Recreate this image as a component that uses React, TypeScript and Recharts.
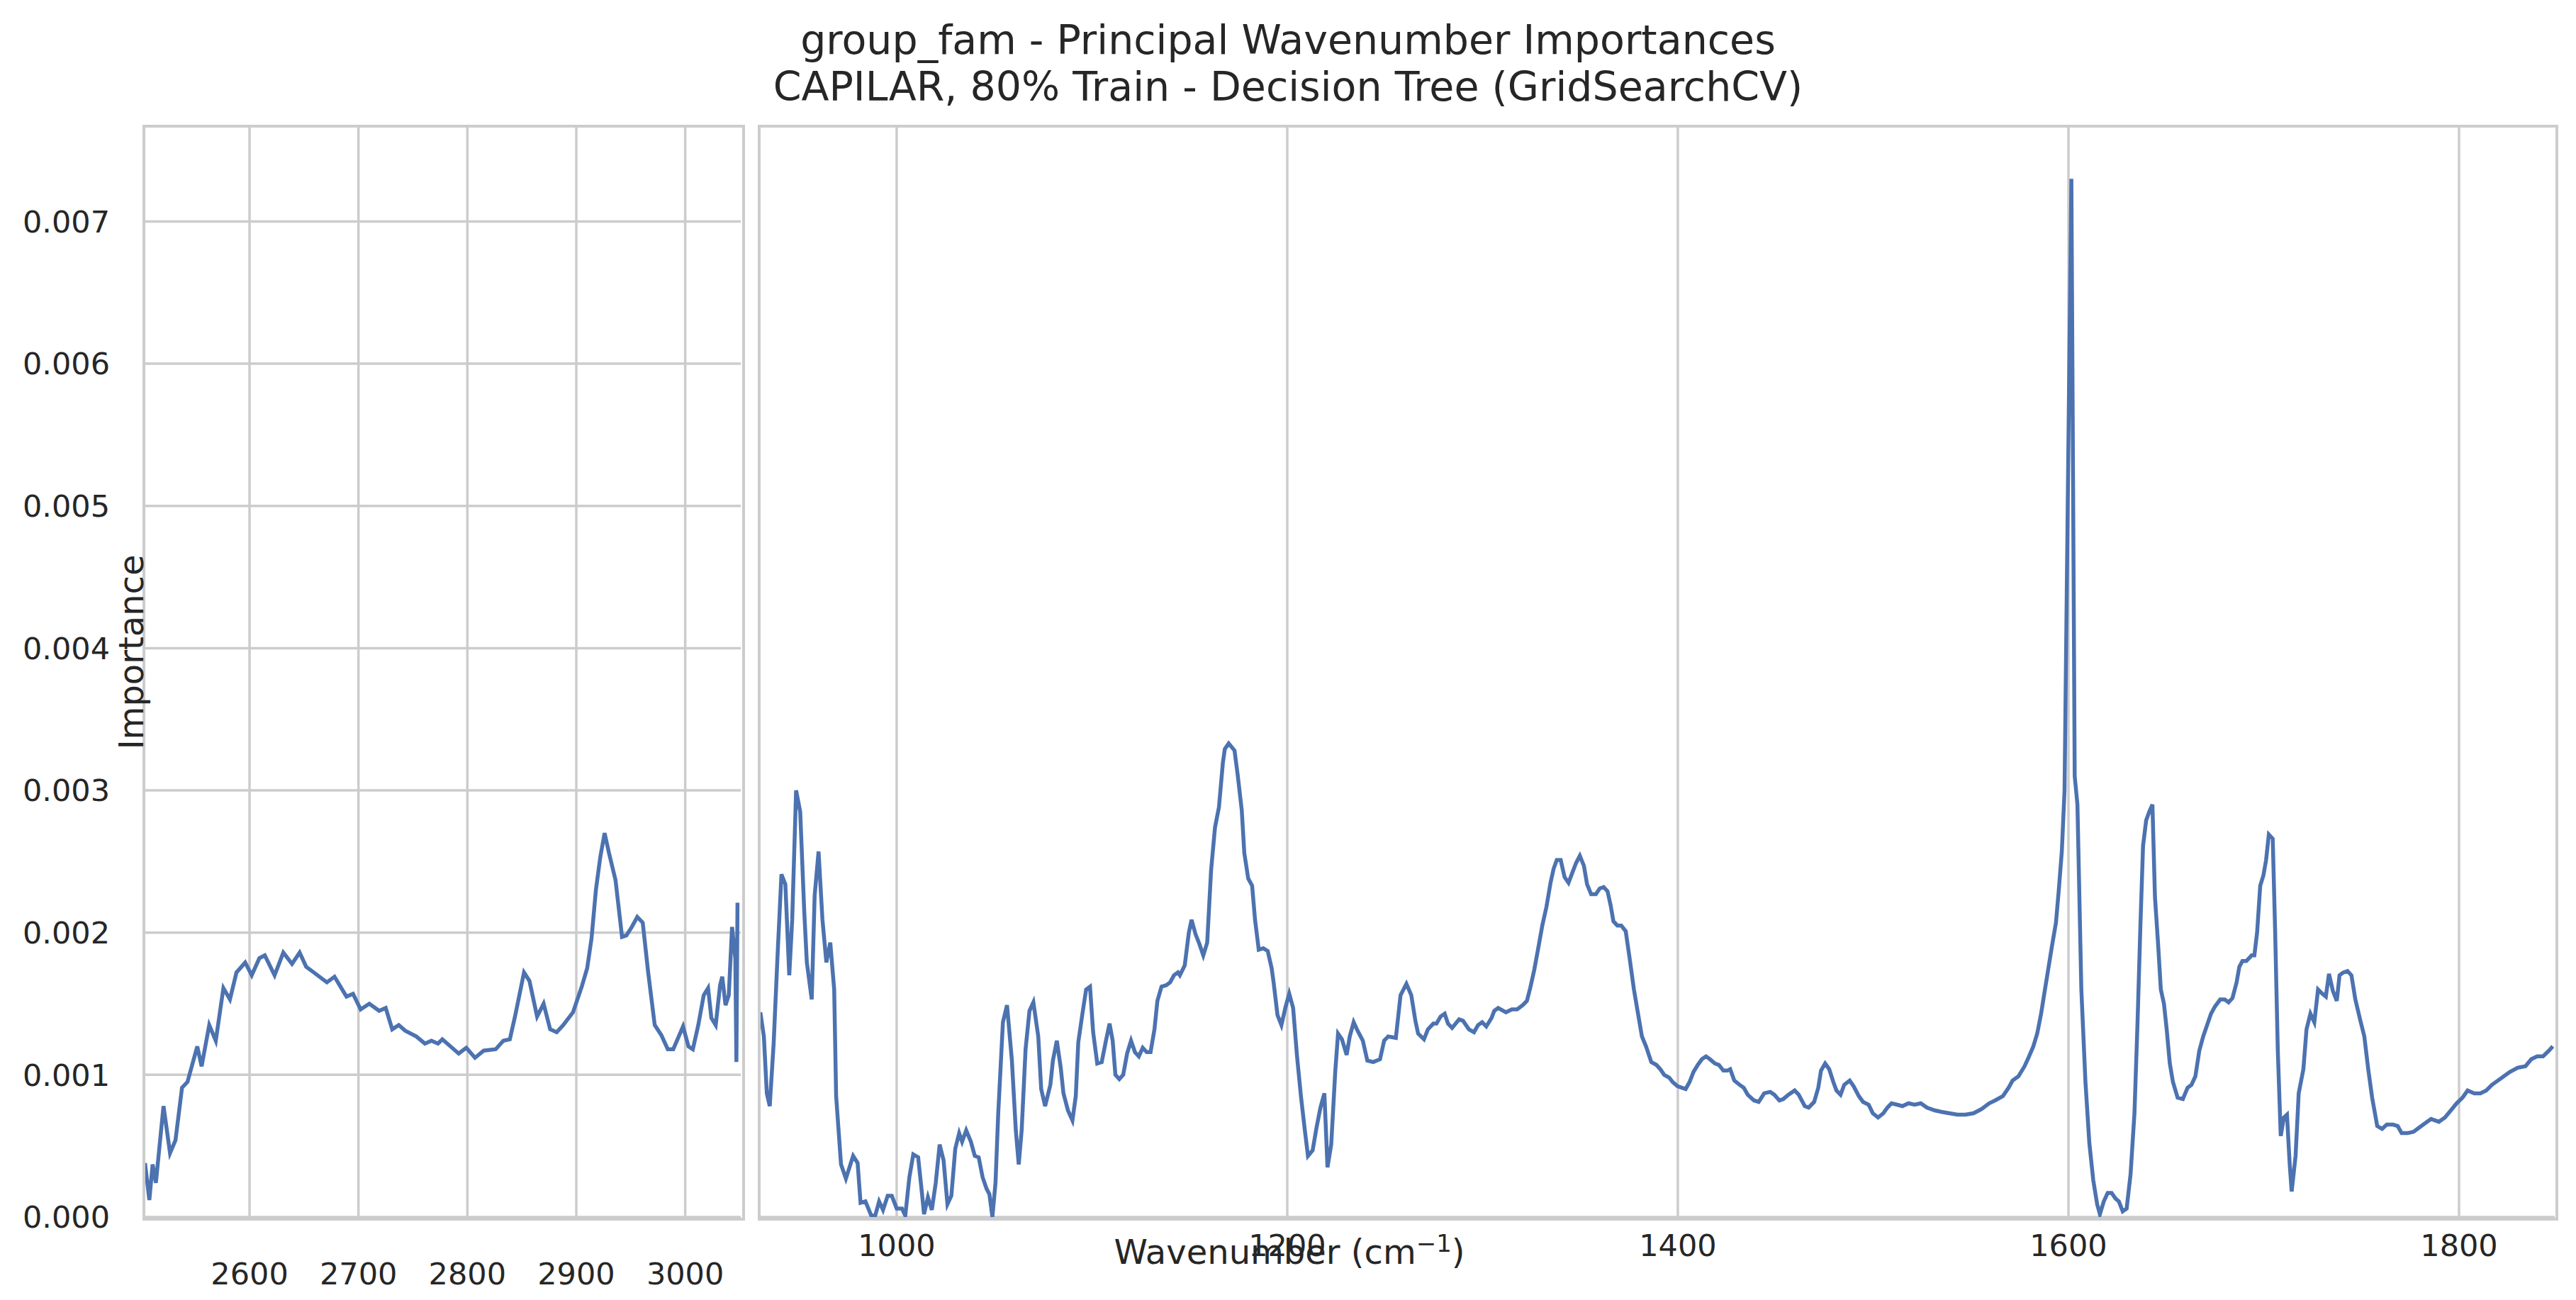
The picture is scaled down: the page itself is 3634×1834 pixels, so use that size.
import React from 'react'
import { LineChart, Line, XAxis, YAxis, CartesianGrid } from 'recharts'

const leftWn = [2504, 2508, 2511, 2514, 2521, 2527, 2532, 2538, 2543, 2552, 2556, 2563, 2569, 2576, 2582, 2588, 2596, 2602, 2609, 2614, 2623, 2631, 2639, 2646, 2652, 2659, 2671, 2678, 2689, 2695, 2702, 2710, 2719, 2725, 2731, 2737, 2743, 2753, 2761, 2767, 2773, 2777, 2789, 2792, 2799, 2807, 2815, 2826, 2833, 2839, 2844, 2852, 2857, 2864, 2870, 2876, 2882, 2888, 2897, 2905, 2910, 2914, 2918, 2922, 2926, 2930, 2936, 2942, 2946, 2951, 2956, 2961, 2966, 2972, 2978, 2984, 2989, 2998, 3003, 3007, 3012, 3017, 3021, 3024, 3028, 3032, 3034, 3037, 3040, 3043, 3046, 3047, 3048]
const leftImp = [0.00038, 0.00012, 0.00037, 0.00024, 0.00078, 0.00045, 0.00054, 0.00091, 0.00095, 0.0012, 0.00106, 0.00135, 0.00124, 0.00161, 0.00153, 0.00172, 0.00179, 0.0017, 0.00182, 0.00184, 0.0017, 0.00186, 0.00178, 0.00186, 0.00176, 0.00172, 0.00165, 0.00169, 0.00155, 0.00157, 0.00146, 0.0015, 0.00145, 0.00147, 0.00132, 0.00135, 0.00131, 0.00127, 0.00122, 0.00124, 0.00122, 0.00125, 0.00117, 0.00115, 0.00119, 0.00112, 0.00117, 0.00118, 0.00124, 0.00125, 0.00142, 0.00172, 0.00166, 0.00141, 0.0015, 0.00132, 0.0013, 0.00135, 0.00144, 0.00162, 0.00175, 0.00196, 0.0023, 0.00253, 0.0027, 0.00256, 0.00237, 0.00197, 0.00198, 0.00204, 0.00211, 0.00207, 0.00172, 0.00135, 0.00128, 0.00118, 0.00118, 0.00134, 0.0012, 0.00118, 0.00135, 0.00156, 0.00161, 0.0014, 0.00135, 0.00163, 0.00169, 0.00149, 0.00156, 0.00204, 0.00182, 0.00109, 0.00221]

const rightWn = [930.2, 932, 933.5, 935, 937, 939, 941, 943, 945, 946.5, 948.5, 950.6, 952.7, 954, 956.5, 958, 960, 962, 964, 966, 968, 969, 971.5, 974, 977.7, 980, 981.5, 984, 987, 989, 991, 993, 995.4, 997.5, 1000, 1002.7, 1004.4, 1006.5, 1008.5, 1011, 1013, 1014, 1016, 1018, 1020, 1022, 1024, 1026, 1028, 1030, 1032, 1033.5, 1035.6, 1038, 1040, 1042, 1044, 1046, 1047.5, 1049, 1050.6, 1052, 1054.4, 1056.5, 1059, 1061, 1062.5, 1064, 1066, 1068, 1070, 1072.5, 1074, 1076, 1078.7, 1080, 1082, 1084, 1085.4, 1087.7, 1090, 1091.7, 1093, 1095, 1097, 1099, 1100.6, 1102.7, 1105, 1107, 1109, 1110.6, 1112, 1114, 1116, 1118, 1120, 1122, 1124, 1126, 1128, 1130, 1132, 1133.5, 1135.6, 1138, 1140, 1142, 1144, 1145, 1147.5, 1149.6, 1151, 1153, 1155, 1157, 1159, 1161, 1163, 1165, 1167, 1168, 1170, 1173, 1174.6, 1176.7, 1178, 1180, 1182, 1183.5, 1185.4, 1187.7, 1190, 1192, 1193, 1195, 1197, 1199, 1201, 1203, 1205, 1207, 1209, 1210.6, 1213, 1215, 1217, 1219, 1220.6, 1222.5, 1224.6, 1226, 1228, 1230.4, 1232, 1234, 1236, 1238.7, 1241, 1244, 1247.5, 1249.6, 1251.7, 1255.6, 1258, 1261, 1263.5, 1265.6, 1267, 1270, 1272, 1274.8, 1276.4, 1278.5, 1280.6, 1282.3, 1284.4, 1288, 1290, 1293, 1295.6, 1297.7, 1299.8, 1301.9, 1304.6, 1306, 1308, 1312, 1315, 1317.7, 1320.6, 1322.7, 1324.4, 1326.5, 1328.5, 1330.6, 1332.7, 1334.8, 1336.4, 1338, 1340, 1342, 1344, 1346.2, 1347.9, 1349.8, 1351.9, 1353.5, 1355.6, 1358, 1360, 1362, 1364, 1365.6, 1367, 1369, 1371, 1373.3, 1375.4, 1377.5, 1379.6, 1381.6, 1383.7, 1386.4, 1389, 1391, 1393, 1395.6, 1397.3, 1399.8, 1401.9, 1404, 1406, 1408, 1410.2, 1412.3, 1414.4, 1416.4, 1419, 1421, 1423.3, 1425.4, 1426.8, 1428.9, 1431.6, 1433.7, 1435.8, 1439, 1441.4, 1444.2, 1447.3, 1449.4, 1452, 1454, 1456.6, 1459.8, 1461.9, 1465, 1467, 1469.8, 1471.9, 1473.3, 1475.4, 1477.5, 1479.6, 1481.2, 1483.3, 1485.2, 1488, 1490, 1492.7, 1494.8, 1497.7, 1499.8, 1502.5, 1505.2, 1507.3, 1509.4, 1512.3, 1515, 1518.1, 1521.2, 1524.4, 1527.5, 1531.6, 1534.8, 1538.9, 1543.1, 1547.3, 1551.4, 1555.6, 1559.4, 1562.4, 1566.4, 1569.4, 1571.4, 1574.4, 1577.5, 1579.5, 1582, 1584, 1586, 1587.5, 1589.5, 1591.5, 1593.6, 1595, 1596.6, 1598, 1601.5, 1603.2, 1604.6, 1606.6, 1608.7, 1610.7, 1612.7, 1614.7, 1616.1, 1618.1, 1620.1, 1622.1, 1624.1, 1625.8, 1627.8, 1629.8, 1631.8, 1633.8, 1635.4, 1636.8, 1638.2, 1639.8, 1641.4, 1643, 1644.3, 1645.9, 1647.3, 1648.9, 1650.3, 1651.9, 1653.5, 1655.9, 1658.6, 1661, 1663, 1665, 1667, 1669, 1671, 1673, 1675, 1677.7, 1680, 1682, 1684, 1686.1, 1687.5, 1689.1, 1691.1, 1693.8, 1695.2, 1696.6, 1698.2, 1699.8, 1701.2, 1702.6, 1704.6, 1705.8, 1707.2, 1708.7, 1710.3, 1711.9, 1713.3, 1714.3, 1716.3, 1717.9, 1720.3, 1721.9, 1723.9, 1725.9, 1727.8, 1730, 1731.8, 1733.4, 1735.4, 1737.4, 1738.8, 1740.8, 1742.9, 1744.9, 1746.9, 1749.5, 1751.5, 1753.5, 1755.5, 1758.1, 1760.6, 1763, 1766.2, 1768.6, 1770.6, 1773.6, 1776.7, 1779.7, 1782.7, 1785.7, 1789.7, 1792.8, 1795.8, 1798.8, 1801.8, 1804.4, 1807.8, 1810.9, 1813.9, 1816.9, 1819.9, 1823, 1826, 1830, 1834, 1837, 1840, 1843, 1846, 1848]
const rightImp = [0.00144, 0.00127, 0.00087, 0.00078, 0.00122, 0.00184, 0.00241, 0.00234, 0.0017, 0.00209, 0.003, 0.00285, 0.00214, 0.00179, 0.00153, 0.00226, 0.00257, 0.00209, 0.00179, 0.00193, 0.0016, 0.00085, 0.00037, 0.00027, 0.00043, 0.00038, 0.0001, 0.00011, 0.00001, 0.00001, 0.00011, 0.00005, 0.00015, 0.00015, 0.00006, 0.00006, 0.00001, 0.00028, 0.00044, 0.00042, 0.00016, 0.00002, 0.00014, 0.00005, 0.00024, 0.00051, 0.0004, 0.00009, 0.00015, 0.00048, 0.00059, 0.00053, 0.00061, 0.00053, 0.00043, 0.00042, 0.00028, 0.0002, 0.00016, 0.0, 0.00024, 0.00073, 0.00137, 0.00149, 0.0011, 0.00061, 0.00037, 0.00061, 0.00118, 0.00145, 0.00151, 0.00127, 0.0009, 0.00078, 0.00093, 0.0011, 0.00124, 0.00105, 0.00087, 0.00075, 0.00068, 0.00085, 0.00123, 0.00142, 0.0016, 0.00162, 0.0013, 0.00108, 0.00109, 0.00123, 0.00136, 0.00124, 0.001, 0.00097, 0.001, 0.00115, 0.00124, 0.00116, 0.00113, 0.00119, 0.00116, 0.00116, 0.00132, 0.00152, 0.00162, 0.00163, 0.00165, 0.0017, 0.00172, 0.0017, 0.00177, 0.002, 0.00209, 0.00199, 0.00192, 0.00184, 0.00193, 0.00244, 0.00274, 0.00288, 0.00319, 0.00329, 0.00333, 0.00328, 0.00311, 0.00286, 0.00256, 0.00238, 0.00233, 0.00209, 0.00188, 0.00189, 0.00187, 0.00175, 0.00165, 0.00142, 0.00135, 0.00147, 0.00157, 0.00147, 0.00113, 0.00085, 0.00061, 0.00043, 0.00047, 0.00063, 0.00077, 0.00087, 0.00035, 0.00051, 0.00103, 0.00129, 0.00125, 0.00114, 0.00127, 0.00137, 0.00131, 0.00124, 0.0011, 0.00109, 0.00111, 0.00124, 0.00127, 0.00126, 0.00156, 0.00164, 0.00156, 0.00138, 0.00129, 0.00125, 0.00132, 0.00136, 0.00136, 0.00141, 0.00143, 0.00136, 0.00133, 0.00139, 0.00138, 0.00132, 0.0013, 0.00135, 0.00137, 0.00134, 0.0014, 0.00145, 0.00147, 0.00144, 0.00146, 0.00146, 0.00149, 0.00152, 0.00161, 0.00174, 0.00189, 0.00205, 0.00218, 0.00235, 0.00245, 0.00251, 0.00251, 0.00239, 0.00235, 0.00243, 0.00249, 0.00254, 0.00247, 0.00234, 0.00227, 0.00227, 0.00231, 0.00232, 0.00229, 0.00219, 0.00208, 0.00205, 0.00205, 0.00201, 0.00181, 0.0016, 0.00143, 0.00127, 0.0012, 0.00109, 0.00107, 0.00104, 0.001, 0.00098, 0.00095, 0.00092, 0.00091, 0.0009, 0.00095, 0.00102, 0.00107, 0.00111, 0.00113, 0.00111, 0.00108, 0.00107, 0.00103, 0.00103, 0.00104, 0.00096, 0.00093, 0.00091, 0.00086, 0.00082, 0.00081, 0.00087, 0.00088, 0.00086, 0.00082, 0.00083, 0.00086, 0.00089, 0.00086, 0.00078, 0.00077, 0.00081, 0.00091, 0.00103, 0.00108, 0.00104, 0.00095, 0.00089, 0.00086, 0.00093, 0.00096, 0.00092, 0.00085, 0.00081, 0.00079, 0.00073, 0.0007, 0.00073, 0.00077, 0.0008, 0.00079, 0.00078, 0.0008, 0.00079, 0.0008, 0.00077, 0.00075, 0.00074, 0.00073, 0.00072, 0.00072, 0.00073, 0.00076, 0.0008, 0.00082, 0.00085, 0.00091, 0.00096, 0.00099, 0.00106, 0.00112, 0.0012, 0.00129, 0.00143, 0.00156, 0.00173, 0.0019, 0.00207, 0.00229, 0.00257, 0.003, 0.0073, 0.0031, 0.0029, 0.0016, 0.00095, 0.00052, 0.00026, 0.00009, 0.00002, 0.00011, 0.00017, 0.00017, 0.00013, 0.00011, 0.00004, 0.00006, 0.0003, 0.00073, 0.00138, 0.00203, 0.00261, 0.00279, 0.00285, 0.0029, 0.00225, 0.00192, 0.0016, 0.0015, 0.00132, 0.00108, 0.00095, 0.00084, 0.00083, 0.00091, 0.00093, 0.00099, 0.00117, 0.00127, 0.00135, 0.00143, 0.00148, 0.00153, 0.00153, 0.00151, 0.00154, 0.00165, 0.00176, 0.0018, 0.0018, 0.00184, 0.00184, 0.002, 0.00233, 0.0024, 0.00251, 0.00269, 0.00266, 0.00203, 0.00117, 0.00057, 0.0007, 0.00072, 0.00037, 0.00018, 0.00043, 0.00087, 0.00104, 0.00132, 0.00143, 0.00137, 0.0016, 0.00157, 0.00155, 0.00171, 0.00159, 0.00152, 0.0017, 0.00172, 0.00173, 0.0017, 0.00153, 0.00138, 0.00127, 0.00104, 0.00084, 0.00064, 0.00062, 0.00065, 0.00065, 0.00064, 0.00059, 0.00059, 0.0006, 0.00063, 0.00066, 0.00069, 0.00067, 0.0007, 0.00075, 0.0008, 0.00084, 0.00089, 0.00087, 0.00087, 0.00089, 0.00093, 0.00096, 0.00099, 0.00102, 0.00105, 0.00106, 0.00111, 0.00113, 0.00113, 0.00117, 0.0012]

const yTicks = [0, 0.001, 0.002, 0.003, 0.004, 0.005, 0.006, 0.007]
const leftTicks = [2600, 2700, 2800, 2900, 3000]
const rightTicks = [1000, 1200, 1400, 1600, 1800]

const leftData = leftWn.map((w, i) => ({ w, v: leftImp[i] }))
const rightData = rightWn.map((w, i) => ({ w, v: rightImp[i] }))

const FONT = 'DejaVu Sans'
const GRID = '#cccccc'
const LINE = '#4c72b0'
const Y_MAX = 0.00767
const tickStyle = { fontSize: 43, fontFamily: FONT, fill: '#262626' }

export default function App() {
  return (
    <div style={{ position: 'fixed', top: 0, left: 0, width: 3634, height: 1834, background: '#fff', fontFamily: FONT, color: '#262626' }}>
      <div style={{ position: 'absolute', left: 0, width: 3634, top: 23, textAlign: 'center', fontSize: 57, lineHeight: '66px' }}>
        group_fam - Principal Wavenumber Importances<br />CAPILAR, 80% Train - Decision Tree (GridSearchCV)
      </div>

      <div style={{ position: 'absolute', left: 0, top: 0 }}>
        <LineChart width={1060} height={1834} data={leftData} margin={{ top: 178, right: 15, left: 0, bottom: 0 }}>
          <CartesianGrid stroke={GRID} strokeWidth={3.5} verticalValues={leftTicks} />
          <XAxis dataKey="w" type="number" domain={[2503, 3051]} ticks={leftTicks} allowDataOverflow
            height={117} tickLine={false} axisLine={false} tickMargin={58} tick={tickStyle} />
          <YAxis type="number" domain={[0, Y_MAX]} ticks={yTicks} allowDataOverflow width={203}
            tickLine={false} axisLine={false} tickMargin={42} tick={tickStyle} tickFormatter={(v) => v.toFixed(3)} />
          <Line dataKey="v" type="linear" stroke={LINE} strokeWidth={5.5} dot={false} isAnimationActive={false} />
        </LineChart>
      </div>
      <div style={{ position: 'absolute', left: 201, top: 176, width: 842, height: 1538, border: `4px solid ${GRID}` }} />

      <div style={{ position: 'absolute', left: 1060, top: 0 }}>
        <LineChart width={2560} height={1834} data={rightData} margin={{ top: 178, right: 16, left: 11, bottom: 0 }}>
          <CartesianGrid stroke={GRID} strokeWidth={3.5} verticalValues={rightTicks} />
          <XAxis dataKey="w" type="number" domain={[929.6, 1849]} ticks={rightTicks} allowDataOverflow
            height={117} tickLine={false} axisLine={false} tickMargin={18} tick={tickStyle} />
          <YAxis type="number" domain={[0, Y_MAX]} ticks={yTicks} allowDataOverflow width={0} tick={false}
            tickLine={false} axisLine={false} />
          <Line dataKey="v" type="linear" stroke={LINE} strokeWidth={5.5} dot={false} isAnimationActive={false} />
        </LineChart>
      </div>
      <div style={{ position: 'absolute', left: 1069, top: 176, width: 2532, height: 1538, border: `4px solid ${GRID}` }} />

      <div style={{ position: 'absolute', left: 185, top: 920, transform: 'translate(-50%, -50%) rotate(-90deg)', fontSize: 48, whiteSpace: 'nowrap' }}>
        Importance
      </div>
      <div style={{ position: 'absolute', left: 1819, top: 1764, transform: 'translate(-50%, -50%)', fontSize: 48, whiteSpace: 'nowrap' }}>
        Wavenumber (cm<sup style={{ fontSize: 34 }}>−1</sup>)
      </div>
    </div>
  )
}
